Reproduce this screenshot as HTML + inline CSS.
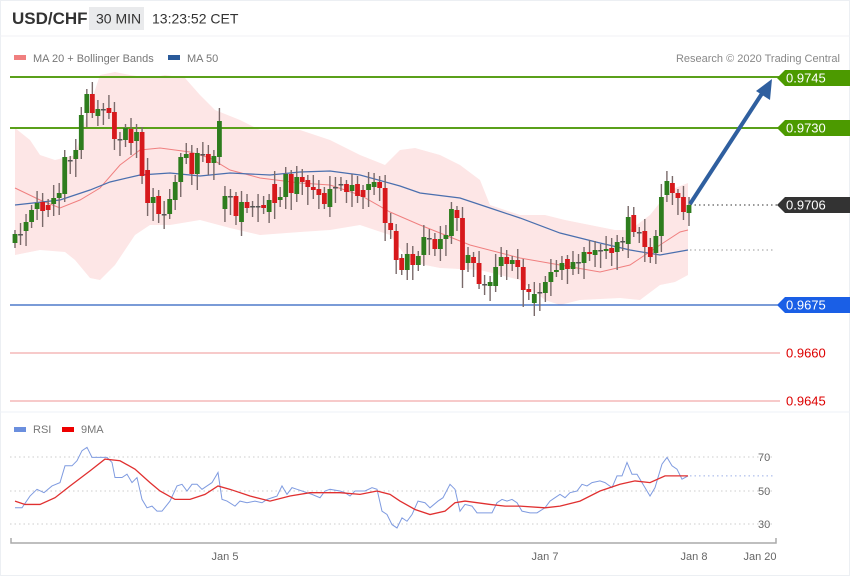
<!DOCTYPE html>
<html><head><meta charset="utf-8"><style>
body{margin:0;background:#fff;font-family:"Liberation Sans","DejaVu Sans",sans-serif;}
#wrap{position:relative;width:850px;height:576px;overflow:hidden;background:#fff;}
svg text{font-family:"Liberation Sans","DejaVu Sans",sans-serif;}
</style></head><body><div id="wrap">
<svg id="s" width="850" height="576" xmlns="http://www.w3.org/2000/svg">
<rect x="0.5" y="0.5" width="849" height="575" fill="#fff" stroke="#eceff3"/>
<line x1="0" y1="36" x2="850" y2="36" stroke="#f0f2f5"/>
<line x1="0" y1="412" x2="850" y2="412" stroke="#eef2f7"/>
<text x="12" y="24" font-size="17" font-weight="bold" fill="#333">USD/CHF</text>
<rect x="89" y="7" width="55" height="23" fill="#e9eaec"/>
<text x="96" y="23.5" font-size="14" fill="#333">30 MIN</text>
<text x="152" y="23.5" font-size="14" fill="#333">13:23:52 CET</text>
<rect x="14" y="55" width="12" height="5" fill="#f07f7f"/>
<text x="33" y="62" font-size="11" fill="#777">MA 20 + Bollinger Bands</text>
<rect x="168" y="55" width="12" height="5" fill="#2a5a9a"/>
<text x="187" y="62" font-size="11" fill="#777">MA 50</text>
<text x="840" y="62" font-size="11" fill="#888" text-anchor="end">Research © 2020 Trading Central</text>
<g id="main"></g>
<rect x="14" y="427" width="12" height="5" fill="#6b8fde"/>
<text x="33" y="433" font-size="11" fill="#777">RSI</text>
<rect x="62" y="427" width="12" height="5" fill="#e00"/>
<text x="81" y="433" font-size="11" fill="#777">9MA</text>
<g stroke="#ccc" stroke-dasharray="1.5,3" stroke-width="1">
<line x1="10" y1="457" x2="775" y2="457"/><line x1="10" y1="491" x2="775" y2="491"/><line x1="10" y1="524" x2="775" y2="524"/>
</g>
<text x="758" y="461" font-size="11" fill="#666">70</text>
<text x="758" y="495" font-size="11" fill="#666">50</text>
<text x="758" y="528" font-size="11" fill="#666">30</text>
<g id="rsi"></g>
<path d="M11 538 V543 H776 V538" fill="none" stroke="#aaa" stroke-width="1.5"/>
<text x="225" y="560" font-size="11" fill="#666" text-anchor="middle">Jan 5</text>
<text x="545" y="560" font-size="11" fill="#666" text-anchor="middle">Jan 7</text>
<text x="694" y="560" font-size="11" fill="#666" text-anchor="middle">Jan 8</text>
<text x="760" y="560" font-size="11" fill="#666" text-anchor="middle">Jan 20</text>
</svg>
<script>
const NS="http://www.w3.org/2000/svg";
function el(p,t,a){const e=document.createElementNS(NS,t);for(const k in a)e.setAttribute(k,a[k]);p.appendChild(e);return e;}
const g=document.getElementById('main');
function pl(pts){return pts.map((p,i)=>(i?'L':'M')+p[0]+' '+p[1]).join(' ');}
const up=[[15,128],[30,140],[40,155],[55,160],[75,155],[90,105],[100,75],[115,72],[130,75],[150,78],[165,75],[185,78],[200,95],[215,110],[240,120],[260,130],[300,130],[330,140],[360,155],[385,165],[400,150],[415,148],[440,155],[460,165],[480,180],[490,205],[520,215],[545,215],[565,220],[590,225],[615,230],[630,230],[650,215],[670,190],[688,183]];
const lo=[[15,255],[40,250],[65,252],[75,260],[90,278],[100,280],[115,265],[135,235],[150,225],[170,225],[200,220],[230,228],[260,235],[300,232],[330,230],[360,225],[390,235],[410,262],[440,268],[480,270],[520,280],[545,300],[560,305],[580,300],[620,298],[640,300],[660,285],[675,282],[688,275]];
el(g,'path',{d:pl(up)+' '+pl(lo.slice().reverse()).replace('M','L')+'Z',fill:'#fde6e6'});
el(g,'line',{x1:10,y1:77,x2:780,y2:77,stroke:'#5aa01a','stroke-width':2});
el(g,'line',{x1:10,y1:128,x2:780,y2:128,stroke:'#5aa01a','stroke-width':2});
el(g,'line',{x1:10,y1:305,x2:780,y2:305,stroke:'#2a5fbf','stroke-width':1.2});
el(g,'line',{x1:10,y1:353,x2:780,y2:353,stroke:'#f2aaaa','stroke-width':1.2});
el(g,'line',{x1:10,y1:401,x2:780,y2:401,stroke:'#f2aaaa','stroke-width':1.2});
el(g,'line',{x1:690,y1:250,x2:775,y2:250,stroke:'#999','stroke-dasharray':'1.5,3'});
el(g,'line',{x1:690,y1:205,x2:780,y2:205,stroke:'#333','stroke-dasharray':'1.5,3'});
const ma20=[[15,188],[40,200],[60,208],[80,200],[100,188],[120,165],[140,150],[160,148],[190,152],[210,158],[230,170],[260,178],[300,183],[330,185],[360,195],[390,212],[420,225],[470,245],[520,258],[560,265],[600,272],[630,265],[660,245],[680,232],[688,230]];
const ma50=[[15,205],[60,200],[90,190],[110,182],[140,175],[170,173],[200,176],[230,173],[270,175],[300,172],[330,171],[360,175],[400,186],[420,193],[460,198],[490,208],[520,218],[560,233],[600,243],[630,250],[660,255],[688,250]];
el(g,'path',{d:pl(ma20),fill:'none',stroke:'#f08080','stroke-width':1});
el(g,'path',{d:pl(ma50),fill:'none',stroke:'#4a6fae','stroke-width':1.2});
const C=[[234,243,'g'],[234,235,'d'],[222,231,'g'],[210,222,'g'],[203,209,'g'],[202,211,'r'],[205,210,'r'],[198,204,'g'],[193,198,'g'],[157,194,'g'],[160,161,'d'],[150,159,'g'],[115,150,'g'],[94,113,'g'],[94,113,'r'],[109,116,'g'],[109,110,'d'],[108,113,'r'],[112,139,'r'],[139,140,'d'],[128,140,'g'],[129,143,'r'],[132,141,'g'],[132,176,'r'],[170,203,'r'],[197,203,'g'],[196,214,'r'],[214,215,'d'],[199,214,'g'],[182,200,'g'],[157,182,'g'],[154,158,'g'],[153,174,'r'],[153,174,'g'],[154,155,'d'],[154,163,'r'],[156,163,'g'],[121,157,'g'],[196,209,'g'],[196,197,'d'],[196,216,'r'],[202,222,'g'],[202,208,'r'],[206,207,'d'],[206,207,'d'],[205,208,'r'],[200,212,'g'],[184,203,'r'],[197,200,'g'],[174,197,'g'],[174,193,'r'],[177,194,'g'],
[177,182,'r'],[180,187,'r'],[187,190,'r'],[189,195,'r'],[193,204,'r'],[189,207,'g'],[187,188,'d'],[184,185,'d'],[184,192,'r'],[185,191,'g'],[184,196,'r'],[190,197,'r'],[184,190,'g'],[182,187,'g'],[182,188,'r'],[188,223,'r'],[223,230,'r'],[231,260,'r'],[258,270,'r'],[254,270,'g'],[254,265,'r'],[256,265,'g'],[237,255,'g'],[238,239,'d'],[239,249,'r'],[239,249,'g'],[235,239,'g'],[209,236,'g'],[210,218,'r'],[218,270,'r'],[255,263,'g'],[257,263,'r'],[263,284,'r'],[284,285,'d'],[282,286,'g'],[267,286,'g'],[257,266,'g'],[257,264,'r'],[260,264,'g'],[260,267,'r'],[267,290,'r'],[289,292,'r'],[294,303,'g'],[292,293,'d'],[282,293,'g'],[272,282,'g'],[270,272,'g'],[263,270,'g'],[259,269,'r'],[262,269,'g'],[262,263,'d'],[252,263,'g'],[252,254,'r'],[250,255,'g'],[250,251,'d'],[249,251,'g'],[248,253,'r'],[242,252,'g'],[241,242,'d'],[217,244,'g'],[215,232,'r'],[232,233,'d'],[231,247,'r'],[247,257,'r'],[236,253,'g'],[197,236,'g'],[181,195,'g'],[183,193,'r'],[193,198,'r'],[197,212,'r'],[205,213,'g']];
const n=C.length, step=(689-15)/(n-1);
C.forEach((c,i)=>{const x=15+i*step;const h=c[0]-(4+(i*7)%10),l=c[1]+(5+(i*5)%14);
el(g,'line',{x1:x,y1:h,x2:x,y2:l,stroke:'#7a6a6a','stroke-width':1.4});
const col=c[2]=='g'?'#2e7d1e':c[2]=='r'?'#d7191c':'#555';
el(g,'rect',{x:x-2.4,y:c[0],width:4.8,height:Math.max(1.5,c[1]-c[0]),fill:col});});
el(g,'line',{x1:690,y1:204,x2:763,y2:92,stroke:'#2f5f9f','stroke-width':4});
el(g,'path',{d:'M772 79 L770 100 L756 91 Z',fill:'#2f5f9f'});
function flag(y,t,col){el(g,'path',{d:`M777 ${y} L785 ${y-8} H850 V${y+8} H785 Z`,fill:col});const e=el(g,'text',{x:786,y:y+4.5,'font-size':13,fill:'#fff','font-family':'DejaVu Sans'});e.textContent=t;}
flag(78,'0.9745','#4c9a00');flag(128,'0.9730','#4c9a00');flag(205,'0.9706','#333');flag(305,'0.9675','#1a5fe6');
[[353,'0.9660'],[401,'0.9645']].forEach(a=>{const e=el(g,'text',{x:786,y:a[0]+4.5,'font-size':13,fill:'#d00','font-family':'DejaVu Sans'});e.textContent=a[1];});
const r=document.getElementById('rsi');const ry=v=>491-(v-50)*1.68;
const R=[[15,40],[22,40],[30,47],[37,51],[44,49],[52,53],[60,55],[65,65],[72,65],[77,68],[82,74],[87,76],[92,70],[100,70],[107,70],[112,67],[115,58],[122,58],[127,60],[132,55],[137,58],[142,45],[147,40],[152,41],[157,38],[162,38],[170,44],[177,53],[182,54],[187,50],[192,54],[197,54],[202,51],[207,53],[212,55],[218,61],[222,45],[227,44],[235,41],[240,44],[247,43],[255,44],[262,43],[267,45],[272,46],[277,47],[282,53],[287,48],[292,52],[297,51],[302,50],[312,48],[320,46],[325,50],[330,51],[340,50],[345,49],[350,47],[355,50],[365,50],[372,52],[377,51],[382,38],[387,36],[392,30],[397,28],[402,34],[407,32],[412,36],[418,44],[425,43],[430,40],[438,44],[443,46],[450,54],[455,51],[460,38],[465,42],[472,41],[477,37],[485,37],[492,37],[497,43],[502,45],[507,44],[512,45],[517,43],[522,38],[530,37],[537,37],[545,40],[550,44],[555,46],[560,48],[565,46],[570,49],[577,50],[582,54],[587,53],[592,55],[600,56],[605,55],[612,52],[617,59],[622,59],[627,67],[632,60],[637,60],[642,55],[647,50],[650,47],[655,52],[662,66],[667,70],[672,65],[677,63],[682,57],[688,59]];
const M=[[15,44],[25,42],[40,42],[55,46],[70,53],[90,62],[105,69],[120,68],[135,63],[150,55],[160,50],[175,45],[190,45],[205,48],[218,53],[230,51],[250,47],[270,44],[290,47],[310,49],[340,49],[360,48],[377,50],[390,48],[400,44],[415,39],[430,36],[445,38],[455,43],[465,44],[490,42],[505,41],[520,41],[545,40],[560,41],[580,44],[600,50],[620,54],[635,56],[650,55],[665,59],[680,59],[688,59]];
el(r,'line',{x1:690,y1:ry(59),x2:775,y2:ry(59),stroke:'#9db0e8','stroke-dasharray':'1.5,3'});
el(r,'path',{d:pl(R.map(p=>[p[0],ry(p[1])])),fill:'none',stroke:'#7f9be0','stroke-width':1});
el(r,'path',{d:pl(M.map(p=>[p[0],ry(p[1])])),fill:'none',stroke:'#e03030','stroke-width':1.3});
</script>
</div></body></html>
